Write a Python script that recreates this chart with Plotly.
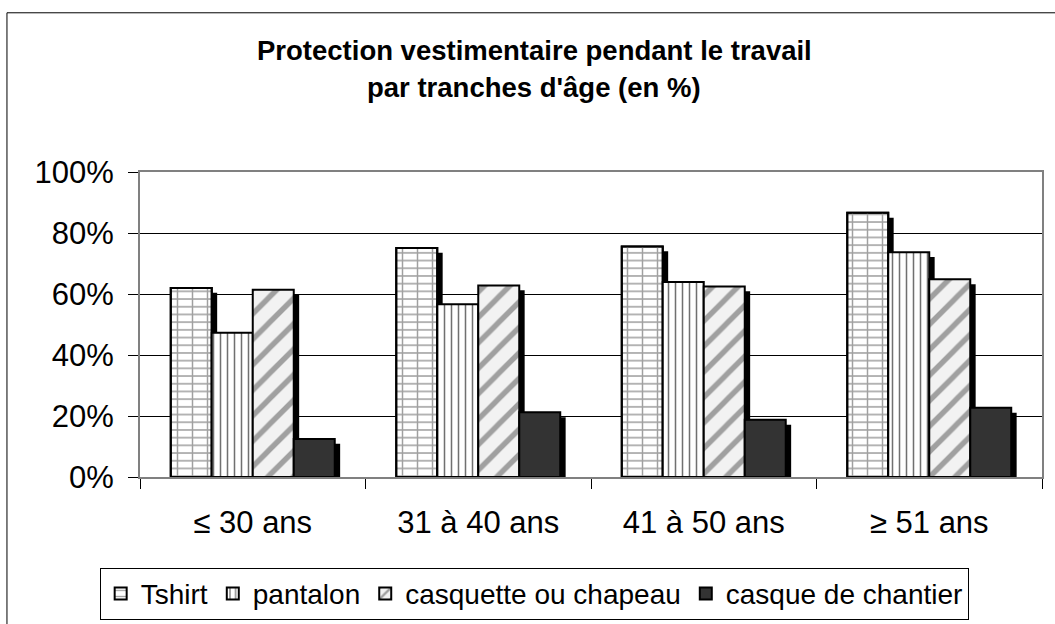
import plotly.graph_objects as go

categories = ["≤ 30 ans", "31 à 40 ans", "41 à 50 ans", "≥ 51 ans"]
series_names = ["Tshirt", "pantalon", "casquette ou chapeau", "casque de chantier"]
tshirt = [62.0, 75.1, 75.6, 86.6]
pantalon = [47.3, 56.6, 63.9, 73.7]
casquette = [61.4, 62.8, 62.5, 64.8]
casque = [12.5, 21.2, 18.75, 22.7]
y_ticks = [0, 20, 40, 60, 80, 100]
y_tick_labels = ["0%", "20%", "40%", "60%", "80%", "100%"]
title_lines = ["Protection vestimentaire pendant le travail", "par tranches d'âge (en %)"]

series_values = [tshirt, pantalon, casquette, casque]
styles = [
    dict(color="white", pattern=dict(shape="-", fgcolor="#a0a0a0", bgcolor="white", size=7.7, solidity=0.2)),
    dict(color="white", pattern=dict(shape="|", fgcolor="#707070", bgcolor="white", size=7, solidity=0.22)),
    dict(color="#eeeeee", pattern=dict(shape="/", fgcolor="#a0a0a0", bgcolor="#f2f2f2", size=18, solidity=0.3)),
    dict(color="#333333"),
]

FONT = "Arial, 'Liberation Sans', sans-serif"
bar_w = 0.1818
group_start = -2 * bar_w
shadow_dx = 0.024
shadow_dy = 1.6

fig = go.Figure()
# shadows
for i, vals in enumerate(series_values):
    fig.add_trace(go.Bar(
        x=categories, y=[v - shadow_dy for v in vals],
        width=bar_w, offset=group_start + i * bar_w + shadow_dx,
        marker=dict(color="black", line=dict(width=0)),
        showlegend=False, hoverinfo="skip",
    ))
# main bars
for i, (name, vals) in enumerate(zip(series_names, series_values)):
    fig.add_trace(go.Bar(
        x=categories, y=vals, name=name,
        width=bar_w, offset=group_start + i * bar_w,
        marker=dict(line=dict(color="black", width=2), **styles[i]),
    ))
    if i == 0:
        # vertical joints of the brick texture
        fig.add_trace(go.Bar(
            x=categories, y=vals, width=bar_w, offset=group_start,
            marker=dict(color="rgba(0,0,0,0)", line=dict(color="black", width=2),
                        pattern=dict(shape="|", fgcolor="#a0a0a0", bgcolor="rgba(0,0,0,0)",
                                     size=15, solidity=0.1)),
            showlegend=False, hoverinfo="skip",
        ))

for k, (txt, yy) in enumerate(zip(title_lines, [1.40, 1.278])):
    fig.add_annotation(text=f"<b>{txt}</b>", xref="paper", yref="paper",
                       x=0.437, y=yy, xanchor="center", yanchor="middle",
                       showarrow=False, font=dict(family=FONT, size=27.5, color="black"))

fig.add_shape(type="rect", xref="paper", yref="paper",
              x0=-0.1475, x1=1.03, y0=-0.52, y1=1.522,
              line=dict(color="black", width=1), fillcolor="rgba(0,0,0,0)", layer="below")

fig.update_layout(
    template="none",
    width=1055, height=624,
    margin=dict(l=140, r=13, t=172, b=147, autoexpand=False),
    paper_bgcolor="white", plot_bgcolor="white",
    barmode="overlay",
    font=dict(family=FONT, color="black"),
    showlegend=True,
    legend=dict(orientation="h", x=0.437, xanchor="center", y=-0.468, yanchor="bottom",
                bordercolor="black", borderwidth=1, font=dict(size=28, family=FONT),
                itemwidth=30, traceorder="normal", tracegroupgap=0, bgcolor="white"),
    xaxis=dict(type="category", range=[-0.5, 3.5], tickson="boundaries",
               ticks="outside", ticklen=10, tickcolor="black", tickwidth=1,
               showline=True, mirror=True, linecolor="#808080", linewidth=2,
               showgrid=False, tickfont=dict(size=31, family=FONT),
               ticklabelstandoff=17, automargin=False),
    yaxis=dict(range=[0, 100], tickmode="array", tickvals=y_ticks, ticktext=y_tick_labels,
               ticks="outside", ticklen=10, tickcolor="black", tickwidth=1,
               showline=True, mirror=True, linecolor="#808080", linewidth=2,
               showgrid=True, gridcolor="black", gridwidth=1, zeroline=False,
               tickfont=dict(size=31, family=FONT), ticklabelstandoff=8, automargin=False),
)

fig.write_html("out.html", config={"displayModeBar": False},
               post_script="document.body.style.margin='0';")
